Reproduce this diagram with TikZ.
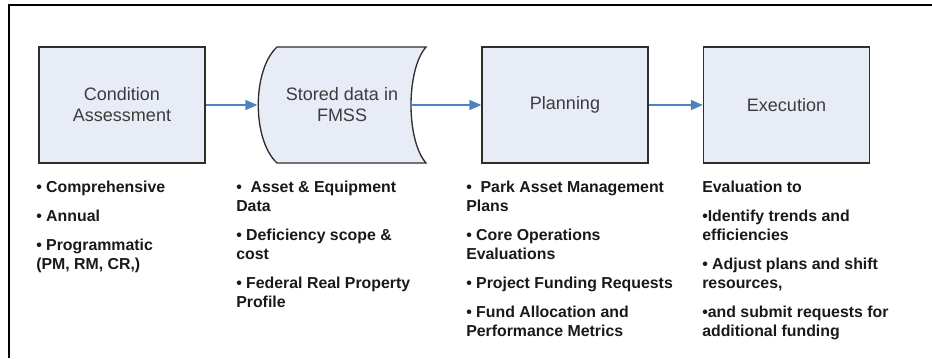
\documentclass[tikz,border=0pt]{standalone}
\usepackage{fontspec}
\setmainfont{Liberation Sans}
\usetikzlibrary{arrows.meta}

\definecolor{boxfill}{HTML}{E7ECF7}
\definecolor{boxedge}{HTML}{2E2E2E}
\definecolor{flowblue}{HTML}{4F81BD}
\definecolor{labelgray}{HTML}{3C3C3C}

\begin{document}
\begin{tikzpicture}[
        x=0.75pt, y=-0.75pt,
        stage/.style={draw=boxedge, fill=boxfill, line width=1pt, minimum width=124.5pt, minimum height=87pt, inner sep=0pt, align=center, text=labelgray, font=\fontsize{13.5}{15.75}\selectfont},
        flow/.style={draw=flowblue, line width=1.1pt, -{Triangle[length=9pt,width=7.5pt]}},
        notes/.style={anchor=north west, inner sep=0pt, align=left, text=black!90, font=\fontsize{11.9}{14.25}\selectfont\bfseries}
    ]
        \useasboundingbox (0,0) rectangle (932,358);

        % Outer frame (only left and top edges show)
        \draw[line width=1.5pt] (9,358) -- (9,5) -- (932,5);

        % Process stages
        \node[stage] (cond) at (122,105) {Condition\\Assessment};

        % Stored data shape: bulging left side, hollow right side
        \draw[draw=boxedge, fill=boxfill, line width=1pt] (277,47) -- (426,47)
            .. controls (406,70) and (406,140) .. (426,163) -- (277,163)
            .. controls (252,140) and (252,70) .. (277,47) -- cycle;
        \node[stage, draw=none, fill=none, minimum width=126pt] (stored) at (342,105) {Stored data in\\FMSS};
        \coordinate (storedout) at (411,105);

        \node[stage] (plan) at (565,105) {Planning};
        \node[stage] (exec) at (786.5,105) {Execution};

        % Flow arrows
        \draw[flow] (cond) -- (stored);
        \draw[flow] (storedout) -- (plan);
        \draw[flow] (plan) -- (exec);

        % Notes under each stage
        \node[notes] (condnotes) at (36,180.5) {• Comprehensive\\[7.5pt]• Annual\\[7.5pt]• Programmatic\\(PM, RM, CR,)};
        \node[notes] (storednotes) at (236,180.5) {•\ \ Asset \& Equipment\\Data\\[7.5pt]• Deficiency scope \&\\cost\\[7.5pt]• Federal Real Property\\Profile};
        \node[notes] (plannotes) at (466,180.5) {•\ \ Park Asset Management\\Plans\\[7.5pt]• Core Operations\\Evaluations\\[7.5pt]• Project Funding Requests\\[7.5pt]• Fund Allocation and\\Performance Metrics};
        \node[notes] (execnotes) at (702,180.5) {Evaluation to\\[7.5pt]•Identify trends and\\efficiencies\\[7.5pt]• Adjust plans and shift\\resources,\\[7.5pt]•and submit requests for\\additional funding};
\end{tikzpicture}
\end{document}
